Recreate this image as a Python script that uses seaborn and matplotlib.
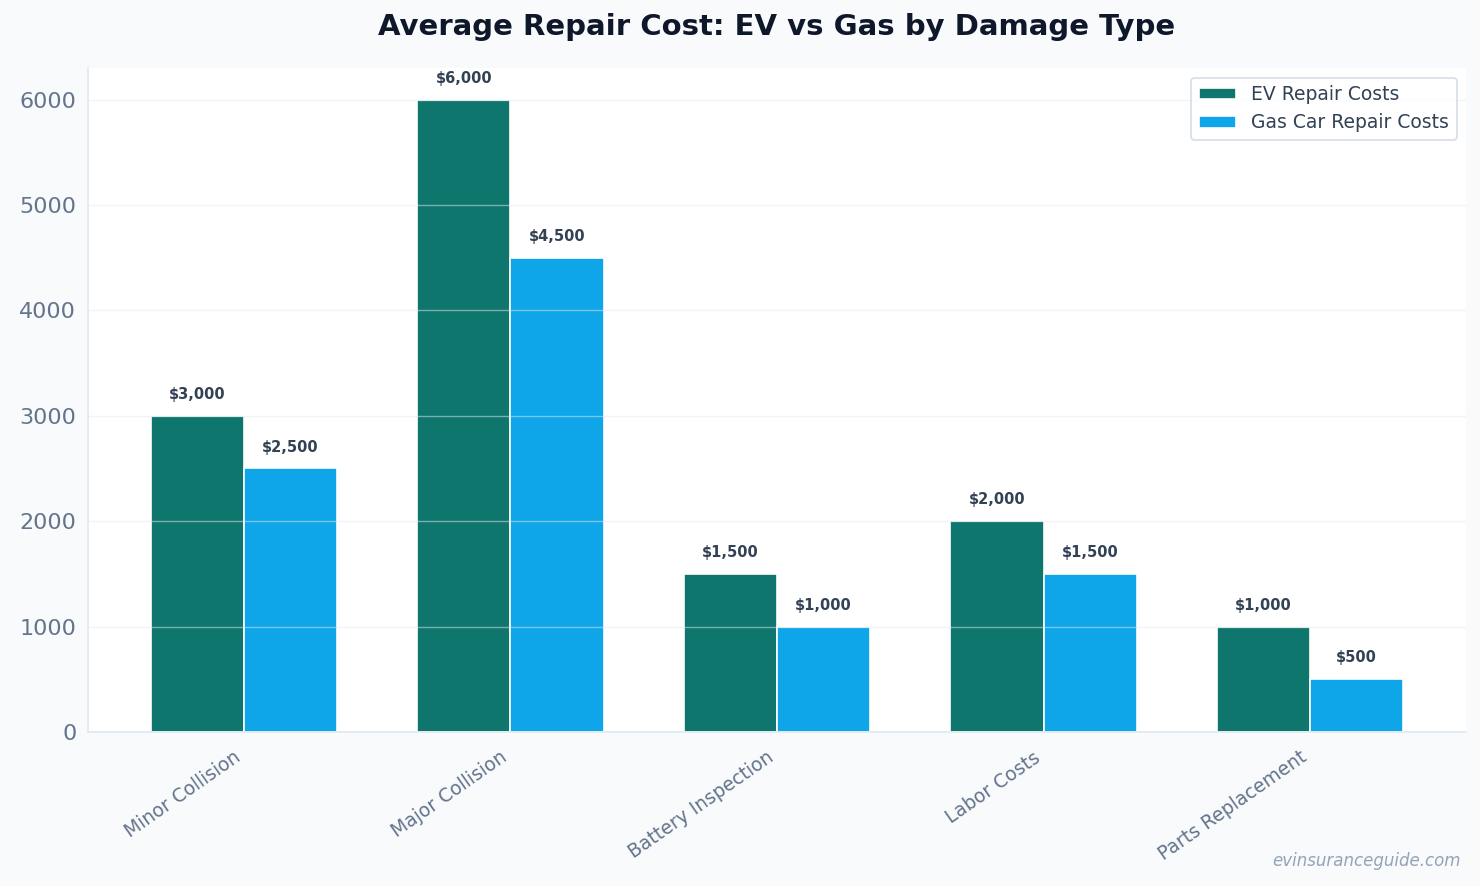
import pandas as pd
import matplotlib.pyplot as plt
import seaborn as sns

damage_types = ['Minor Collision', 'Major Collision', 'Battery Inspection',
                'Labor Costs', 'Parts Replacement']
ev_costs = [3000, 6000, 1500, 2000, 1000]
gas_costs = [2500, 4500, 1000, 1500, 500]
series_names = ['EV Repair Costs', 'Gas Car Repair Costs']

df = pd.DataFrame({
    'Damage Type': damage_types * 2,
    'Cost': ev_costs + gas_costs,
    'Vehicle': [series_names[0]] * len(damage_types) + [series_names[1]] * len(damage_types),
})

sns.set_style('white')
plt.rcParams['font.family'] = ['DejaVu Sans']

fig, ax = plt.subplots(figsize=(14.8, 8.86), dpi=100)
fig.patch.set_facecolor('#f8fafc')
ax.set_facecolor('white')

sns.barplot(data=df, x='Damage Type', y='Cost', hue='Vehicle',
            palette=['#0f766e', '#0ea5e9'], saturation=1, width=0.7,
            edgecolor='white', linewidth=1.2, ax=ax)

# dollar labels above each bar
for cont in ax.containers:
    ax.bar_label(cont, labels=[f'${v:,.0f}' for v in cont.datavalues],
                 padding=10, fontsize=10.5, fontweight='bold', color='#334155')

ax.set_axisbelow(False)
ax.yaxis.grid(True, color='#e2e8f0', alpha=0.5, linewidth=1)
ax.set_xlabel('')
ax.set_ylabel('')
ax.set_title('Average Repair Cost: EV vs Gas by Damage Type', fontsize=21,
             fontweight='bold', color='#0f172a', pad=24)

for s in ['top', 'right']:
    ax.spines[s].set_visible(False)
for s in ['left', 'bottom']:
    ax.spines[s].set_color('#e2e8f0')
    ax.spines[s].set_linewidth(1.2)

ax.tick_params(axis='y', labelsize=16, colors='#64748b', length=5)
ax.tick_params(axis='x', labelsize=13.5, colors='#64748b', length=5, pad=6.5)
plt.setp(ax.get_xticklabels(), rotation=35, ha='right')
ax.set_xlim(-0.585, 4.585)
ax.set_ylim(0, 6300)

leg = ax.legend(loc='upper right', fontsize=13.5, frameon=True, title=None,
                labelcolor='#334155', borderpad=0.4, handlelength=2.0,
                handleheight=0.6)
leg.get_frame().set_edgecolor('#cbd5e1')
leg.get_frame().set_linewidth(1.2)

fig.text(0.987, 0.018, 'evinsuranceguide.com', ha='right', va='bottom',
         fontsize=12, style='italic', color='#94a3b8')

plt.subplots_adjust(left=0.0595, right=0.9905, top=0.923, bottom=0.174)
plt.savefig('out.png', dpi=100, facecolor=fig.get_facecolor())
